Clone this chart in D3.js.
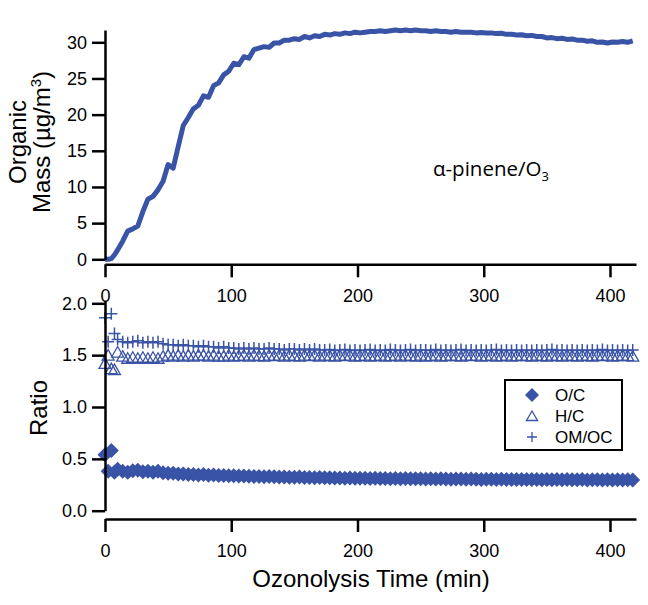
<!DOCTYPE html>
<html>
<head>
<meta charset="utf-8">
<script src="https://cdn.jsdelivr.net/npm/d3@7"></script>
<style>
  body { margin: 0; background: #fff; }
  svg text { font-family: "Liberation Sans", Arial, sans-serif; fill: #000; }
  .axis path, .axis line { stroke: #000; stroke-width: 2.5; }
  .axis text { font-size: 18px; }
  .axisLabel { font-size: 24px; }
</style>
</head>
<body>
<div id="chart"></div>
<script>
var width = 648, height = 605;
var blue = '#3953a6';

// ozonolysis time (min)
var time = [0, 2.5, 5, 7.5, 10,
  14, 18, 22, 26, 30, 34, 38, 42, 46, 50,
  54, 58, 62, 66, 70, 74, 78, 82, 86, 90,
  94, 98, 102, 106, 110, 114, 118, 122, 126, 130,
  134, 138, 142, 146, 150, 154, 158, 162, 166, 170,
  174, 178, 182, 186, 190, 194, 198, 202, 206, 210,
  214, 218, 222, 226, 230, 234, 238, 242, 246, 250,
  254, 258, 262, 266, 270, 274, 278, 282, 286, 290,
  294, 298, 302, 306, 310, 314, 318, 322, 326, 330,
  334, 338, 342, 346, 350, 354, 358, 362, 366, 370,
  374, 378, 382, 386, 390, 394, 398, 402, 406, 410,
  414, 418];

// organic mass (ug/m3)
var mass = [0, 0, 0.1, 0.6, 1.3,
  2.5, 3.9, 4.2, 4.6, 6.6, 8.3, 8.7, 9.6, 10.8, 13.1,
  12.6, 15.6, 18.5, 19.6, 20.8, 21.3, 22.6, 22.4, 24.0, 24.4,
  25.5, 26.0, 27.1, 26.9, 28.0, 27.8, 29.0, 29.2, 29.4, 29.3,
  29.9, 29.9, 30.3, 30.3, 30.5, 30.4, 30.8, 30.6, 30.9, 30.8,
  31.1, 31.0, 31.2, 31.1, 31.3, 31.2, 31.4, 31.3, 31.4, 31.5,
  31.5, 31.6, 31.5, 31.6, 31.7, 31.6, 31.7, 31.6, 31.7, 31.6,
  31.6, 31.5, 31.6, 31.5, 31.5, 31.4, 31.5, 31.4, 31.4, 31.4,
  31.3, 31.35, 31.3, 31.3, 31.2, 31.25, 31.1, 31.1, 31.0, 31.05,
  30.9, 30.95, 30.8, 30.8, 30.6, 30.65, 30.5, 30.55, 30.4, 30.45,
  30.3, 30.3, 30.15, 30.2, 30.0, 30.05, 29.9, 30.05, 30.0, 30.1,
  30.0, 30.2];

var oc = [0.54, 0.38, 0.58, 0.37, 0.40,
  0.38, 0.37, 0.385, 0.39, 0.375, 0.38, 0.37, 0.38, 0.365, 0.36,
  0.36, 0.355, 0.355, 0.35, 0.35, 0.345, 0.348, 0.343, 0.345, 0.34,
  0.34, 0.337, 0.336, 0.334, 0.335, 0.332, 0.33, 0.331, 0.328, 0.33,
  0.327, 0.325, 0.326, 0.323, 0.322, 0.324, 0.32, 0.321, 0.318, 0.32,
  0.317, 0.318, 0.315, 0.316, 0.314, 0.315, 0.313, 0.312, 0.314, 0.311,
  0.312, 0.31, 0.311, 0.309, 0.31, 0.308, 0.31, 0.307, 0.309, 0.308,
  0.306, 0.308, 0.305, 0.307, 0.306, 0.304, 0.306, 0.305, 0.303, 0.305,
  0.304, 0.302, 0.304, 0.303, 0.301, 0.303, 0.302, 0.300, 0.302, 0.301,
  0.300, 0.302, 0.300, 0.299, 0.301, 0.299, 0.300, 0.298, 0.300, 0.299,
  0.298, 0.300, 0.297, 0.299, 0.298, 0.297, 0.299, 0.296, 0.298, 0.297,
  0.298, 0.297];

var hc = [1.42, 1.50, 1.37, 1.36, 1.53,
  1.49, 1.47, 1.48, 1.47, 1.48, 1.47, 1.48, 1.47, 1.49, 1.50,
  1.49, 1.50, 1.49, 1.50, 1.49, 1.50, 1.50, 1.49, 1.50, 1.49,
  1.49, 1.50, 1.49, 1.495, 1.50, 1.49, 1.50, 1.495, 1.49, 1.50,
  1.495, 1.50, 1.49, 1.50, 1.495, 1.49, 1.50, 1.495, 1.50, 1.49,
  1.50, 1.495, 1.49, 1.50, 1.495, 1.50, 1.49, 1.495, 1.50, 1.49,
  1.495, 1.50, 1.49, 1.495, 1.50, 1.49, 1.50, 1.495, 1.49, 1.50,
  1.49, 1.495, 1.50, 1.49, 1.495, 1.50, 1.495, 1.49, 1.50, 1.495,
  1.50, 1.49, 1.495, 1.50, 1.49, 1.495, 1.50, 1.49, 1.495, 1.50,
  1.495, 1.49, 1.50, 1.495, 1.49, 1.50, 1.495, 1.49, 1.50, 1.495,
  1.49, 1.50, 1.495, 1.49, 1.50, 1.495, 1.50, 1.49, 1.495, 1.50,
  1.495, 1.49];

var omoc = [1.86, 1.63, 1.90, 1.71, 1.65,
  1.63, 1.62, 1.63, 1.64, 1.62, 1.63, 1.62, 1.63, 1.61, 1.60,
  1.60, 1.59, 1.60, 1.59, 1.59, 1.58, 1.59, 1.58, 1.58, 1.57,
  1.58, 1.57, 1.57, 1.56, 1.57, 1.56, 1.57, 1.56, 1.56, 1.57,
  1.56, 1.56, 1.55, 1.56, 1.56, 1.55, 1.56, 1.55, 1.56, 1.55,
  1.55, 1.555, 1.545, 1.55, 1.555, 1.545, 1.55, 1.545, 1.55, 1.555,
  1.545, 1.55, 1.545, 1.555, 1.55, 1.545, 1.55, 1.555, 1.545, 1.55,
  1.55, 1.545, 1.555, 1.545, 1.55, 1.545, 1.55, 1.555, 1.545, 1.55,
  1.545, 1.55, 1.545, 1.55, 1.555, 1.545, 1.55, 1.545, 1.55, 1.545,
  1.55, 1.545, 1.55, 1.545, 1.55, 1.555, 1.545, 1.55, 1.545, 1.55,
  1.545, 1.55, 1.545, 1.55, 1.545, 1.555, 1.545, 1.55, 1.545, 1.55,
  1.545, 1.55];

var xTicks = [0, 100, 200, 300, 400];
var massTicks = [0, 5, 10, 15, 20, 25, 30];
var ratioTicks = [0, 0.5, 1.0, 1.5, 2.0];
var legendNames = ['O/C', 'H/C', 'OM/OC'];

var svg = d3.select('#chart')
  .append('svg')
  .attr('width', width)
  .attr('height', height);

var xScale = d3.scaleLinear().domain([0, 420.6]).range([105, 636]);
var yMass = d3.scaleLinear().domain([0, 31.7]).range([259.3, 30]);
var yRatio = d3.scaleLinear().domain([0, 2.03]).range([510.7, 300.2]);

// markers
var diamond = 'M0,-7.5L7.5,0L0,7.5L-7.5,0Z';
var triangle = 'M0,-5.5L6,5L-6,5Z';
var plus = 'M-6,0H6M0,-6V6';

// ---- top panel ----
svg.append('path')
  .datum(time)
  .attr('fill', 'none')
  .attr('stroke', blue)
  .attr('stroke-width', 5)
  .attr('stroke-linejoin', 'round')
  .attr('d', d3.line()
    .x(function (d) { return xScale(d); })
    .y(function (d, i) { return yMass(mass[i]); }));

svg.append('g')
  .attr('class', 'axis')
  .attr('transform', 'translate(105,0)')
  .call(d3.axisLeft(yMass).tickValues(massTicks).tickSize(13).tickSizeOuter(0).tickPadding(5));

svg.append('g')
  .attr('class', 'axis')
  .attr('transform', 'translate(0,264.3)')
  .call(d3.axisBottom(xScale).tickValues(xTicks).tickSize(13).tickSizeOuter(0).tickPadding(12));

var note = svg.append('text')
  .attr('x', 433)
  .attr('y', 176)
  .style('font-family', '"Open Sans", sans-serif')
  .style('font-size', '20.5px')
  .text('α-pinene/O');
note.append('tspan')
  .attr('dy', 5)
  .style('font-size', '13px')
  .text('3');

var lab1 = svg.append('text')
  .attr('class', 'axisLabel')
  .attr('text-anchor', 'middle')
  .attr('transform', 'translate(26,142) rotate(-90)');
lab1.append('tspan').attr('x', 0).attr('y', 0).text('Organic');
lab1.append('tspan').attr('x', 0).attr('y', 24).text('Mass (µg/m');
lab1.append('tspan').attr('dy', -9).style('font-size', '15px').text('3');
lab1.append('tspan').attr('dy', 9).text(')');

// ---- bottom panel ----
svg.append('g')
  .selectAll('path')
  .data(time)
  .enter()
  .append('path')
  .attr('d', diamond)
  .attr('fill', blue)
  .attr('transform', function (d, i) {
    return 'translate(' + xScale(d) + ',' + yRatio(oc[i]) + ')';
  });

svg.append('g')
  .selectAll('path')
  .data(time)
  .enter()
  .append('path')
  .attr('d', triangle)
  .attr('fill', 'none')
  .attr('stroke', blue)
  .attr('stroke-width', 1.3)
  .attr('transform', function (d, i) {
    return 'translate(' + xScale(d) + ',' + yRatio(hc[i]) + ')';
  });

svg.append('g')
  .selectAll('path')
  .data(time)
  .enter()
  .append('path')
  .attr('d', plus)
  .attr('fill', 'none')
  .attr('stroke', blue)
  .attr('stroke-width', 1.5)
  .attr('transform', function (d, i) {
    return 'translate(' + xScale(d) + ',' + yRatio(omoc[i]) + ')';
  });

svg.append('g')
  .attr('class', 'axis')
  .attr('transform', 'translate(105,0)')
  .call(d3.axisLeft(yRatio).tickValues(ratioTicks).tickFormat(d3.format('.1f'))
    .tickSize(13).tickSizeOuter(0).tickPadding(5));

svg.append('g')
  .attr('class', 'axis')
  .attr('transform', 'translate(0,519)')
  .call(d3.axisBottom(xScale).tickValues(xTicks).tickSize(13).tickSizeOuter(0).tickPadding(12));

svg.append('text')
  .attr('class', 'axisLabel')
  .attr('text-anchor', 'middle')
  .attr('transform', 'translate(47,408) rotate(-90)')
  .text('Ratio');

svg.append('text')
  .attr('class', 'axisLabel')
  .attr('text-anchor', 'middle')
  .attr('x', 371)
  .attr('y', 587)
  .text('Ozonolysis Time (min)');

// legend
var legend = svg.append('g').attr('transform', 'translate(505,380)');
legend.append('rect')
  .attr('width', 117)
  .attr('height', 70)
  .attr('fill', '#fff')
  .attr('stroke', '#000')
  .attr('stroke-width', 2);

var legendMarks = ['M0,-7L7,0L0,7L-7,0Z', 'M0,-5L5.5,4.5L-5.5,4.5Z', 'M-5,0H5M0,-5V5'];
legendNames.forEach(function (name, i) {
  var y = 15 + i * 21;
  legend.append('path')
    .attr('d', legendMarks[i])
    .attr('transform', 'translate(27,' + y + ')')
    .attr('fill', i == 0 ? blue : 'none')
    .attr('stroke', i == 0 ? 'none' : blue)
    .attr('stroke-width', 1.3);
  legend.append('text')
    .attr('x', 50)
    .attr('y', y + 6)
    .style('font-size', '17px')
    .text(name);
});
</script>
</body>
</html>
